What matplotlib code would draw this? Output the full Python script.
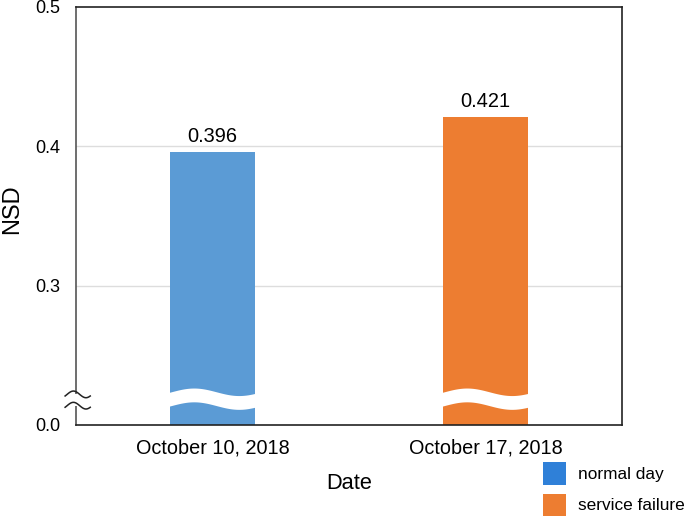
import matplotlib

matplotlib.use("Agg")
import matplotlib.pyplot as plt  # noqa: E402
import numpy as np  # noqa: E402
from matplotlib.patches import Patch, Polygon  # noqa: E402
from matplotlib.transforms import blended_transform_factory  # noqa: E402

dates = ["October 10, 2018", "October 17, 2018"]
nsd = [0.396, 0.421]
series = ["normal day", "service failure"]
bar_colors = ["#5B9BD5", "#ED7D31"]
legend_colors = ["#2F80D8", "#ED7D31"]
y_ticks = [0.0, 0.3, 0.4, 0.5]

plt.rcParams["font.family"] = ["Liberation Sans", "DejaVu Sans"]


# broken axis: 0..0.3 squeezed into the height of one 0.1 step
def _fwd(v):
    v = np.asarray(v, dtype=float)
    return np.where(v < 0.3, v / 3.0, v - 0.2)


def _inv(d):
    d = np.asarray(d, dtype=float)
    return np.where(d < 0.1, d * 3.0, d + 0.2)


fig = plt.figure(figsize=(6.85, 5.22), dpi=100)
ax = fig.add_axes([0.111, 0.186, 0.797, 0.801])
ax.set_yscale("function", functions=(_fwd, _inv))

x = np.arange(len(dates))
width = 0.31
ax.bar(x, nsd, width=width, color=bar_colors, zorder=2)

for xi, v in zip(x, nsd):
    ax.text(xi, v + 0.004, f"{v:.3f}", ha="center", va="bottom", fontsize=14.4)

ax.set_xlim(-0.5, 1.5)
ax.set_ylim(0.0, 0.5)
ax.set_yticks(y_ticks)
ax.set_yticklabels([f"{t:.1f}" for t in y_ticks], fontsize=13)
ax.set_xticks(x)
ax.set_xticklabels(dates, fontsize=14.3)
ax.tick_params(axis="y", length=0, pad=11.5)
ax.tick_params(axis="x", length=0, pad=10)

for t in [0.3, 0.4]:
    ax.axhline(t, color="#dddddd", lw=1, zorder=1)

for side in ["top", "right"]:
    ax.spines[side].set_color("#222222")
ax.spines["left"].set_color("#555555")
ax.spines["bottom"].set_color("#222222")
for s in ax.spines.values():
    s.set_linewidth(1.2)

ax.set_ylabel("NSD", fontsize=17)
ax.yaxis.set_label_coords(-0.097, 0.515)
ax.set_xlabel("Date", fontsize=15.7, labelpad=11)

# white wavy gap through each bar
trans = blended_transform_factory(ax.transData, ax.transAxes)
t = np.linspace(0, 1, 60)
for xi in x:
    xs = xi - width / 2 - 0.01 + t * (width + 0.02)
    wave = 0.009 * np.sin(2 * np.pi * t - 0.3)
    top = 0.078 + wave
    bot = 0.045 + wave
    verts = np.column_stack([np.r_[xs, xs[::-1]], np.r_[top, bot[::-1]]])
    ax.add_patch(Polygon(verts, closed=True, facecolor="white",
                         edgecolor="none", transform=trans, zorder=3))

# break marks on the left axis
ax.add_patch(plt.Rectangle((-0.01, 0.045), 0.02, 0.028, transform=ax.transAxes,
                           facecolor="white", edgecolor="none",
                           clip_on=False, zorder=4))
s = np.linspace(0, 1, 30)
for yb in [0.046, 0.073]:
    ax.plot(-0.02 + s * 0.046, yb + 0.008 * np.sin(2 * np.pi * s - 0.5),
            color="#222222", lw=1.1, transform=ax.transAxes,
            clip_on=False, zorder=5)

handles = [Patch(facecolor=c, edgecolor="none") for c in legend_colors]
fig.legend(handles, series, loc="upper left",
           bbox_to_anchor=(543 / 685, 1 - 462 / 522), frameon=False,
           fontsize=12.4, handlelength=1.34, handleheight=1.64,
           labelspacing=0.52, handletextpad=0.7, borderpad=0,
           borderaxespad=0)

fig.savefig("out.png", dpi=100)
